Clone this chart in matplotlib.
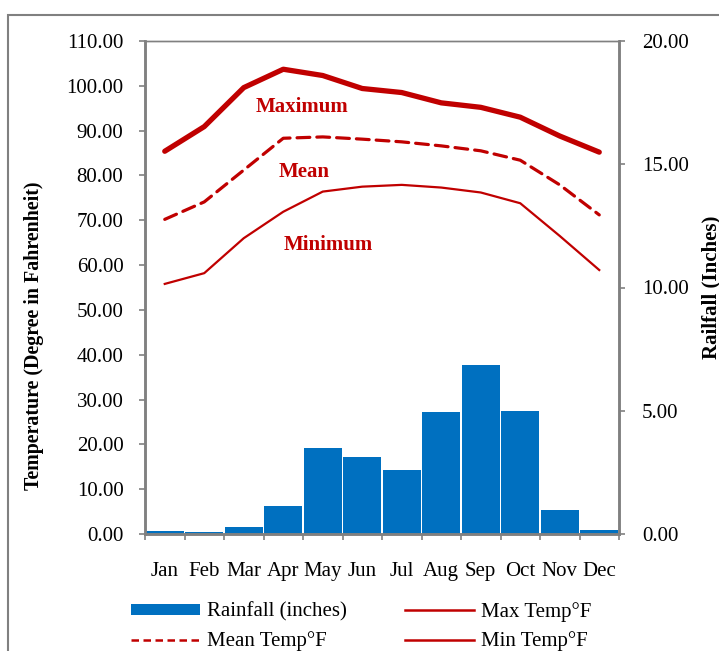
import matplotlib
matplotlib.use("Agg")
import matplotlib.pyplot as plt
from matplotlib.lines import Line2D
from matplotlib.patches import Patch, Rectangle
import numpy as np

months = ["Jan", "Feb", "Mar", "Apr", "May", "Jun", "Jul", "Aug", "Sep", "Oct", "Nov", "Dec"]
rainfall = [0.12, 0.08, 0.30, 1.14, 3.49, 3.12, 2.60, 4.95, 6.86, 4.99, 0.97, 0.16]
max_temp = [85.4, 90.9, 99.6, 103.7, 102.3, 99.4, 98.5, 96.2, 95.2, 93.0, 88.8, 85.2]
mean_temp = [70.2, 74.1, 81.2, 88.3, 88.6, 88.1, 87.5, 86.6, 85.5, 83.4, 77.9, 71.2]
min_temp = [55.8, 58.2, 66.0, 71.9, 76.4, 77.5, 77.9, 77.3, 76.2, 73.8, 66.5, 58.9]

left_ticks = [0, 10, 20, 30, 40, 50, 60, 70, 80, 90, 100, 110]
right_ticks = [0, 5, 10, 15, 20]

RED = "#C00000"
BLUE = "#0070C0"
GRAY = "#808080"

plt.rcParams['font.family'] = ['Liberation Serif', 'DejaVu Serif']
FS = 15

fig = plt.figure(figsize=(7.19, 6.51), dpi=100)
W, H = 719, 651
ax = fig.add_axes([145 / W, 1 - 534 / H, (619 - 145) / W, (534 - 41) / H])
ax2 = ax.twinx()

x = np.arange(len(months))
ax2.bar(x, rainfall, width=0.96, color=BLUE, zorder=2)
ax2.set_ylim(0, 20)
ax2.set_yticks(right_ticks)
ax2.set_yticklabels([f"{v:.2f}" for v in right_ticks], fontsize=FS)

ax.set_zorder(ax2.get_zorder() + 1)
ax.patch.set_visible(False)

ax.plot(x, max_temp, color=RED, lw=3.8, solid_capstyle='round', solid_joinstyle='round')
ax.plot(x, mean_temp, color=RED, lw=2.3, linestyle=(0, (4, 2.2)), dash_capstyle='round')
ax.plot(x, min_temp, color=RED, lw=1.6)

ax.set_ylim(0, 110)
ax.set_xlim(-0.5, 11.5)
ax.set_yticks(left_ticks)
ax.set_yticklabels([f"{v:.2f}" for v in left_ticks], fontsize=FS)
ax.set_xticks(x)
ax.set_xticklabels(months, fontsize=FS)
ax.set_xticks(np.arange(-0.5, 12, 1), minor=True)
ax.tick_params(axis='x', which='major', length=0, pad=20)
ax.tick_params(axis='x', which='minor', length=4, width=1.2, color=GRAY, direction='out')
ax.tick_params(axis='y', length=4.5, width=1.2, color=GRAY, pad=11)
ax2.tick_params(axis='y', length=4.5, width=1.2, color=GRAY, pad=12)

for a in (ax, ax2):
    for side in ('left', 'right', 'bottom'):
        a.spines[side].set_color(GRAY)
        a.spines[side].set_linewidth(1.8)
    a.spines['top'].set_color(GRAY)
    a.spines['top'].set_linewidth(1.0)

fig.text(34 / W, 1 - 336 / H, "Temperature (Degree in Fahrenheit)", rotation=90, fontsize=14.4,
         fontweight='bold', ha='center', va='center')
fig.text(711 / W, 1 - 287 / H, "Railfall (Inches)", rotation=90, fontsize=FS,
         fontweight='bold', ha='center', va='center')

ax.text(3.47, 95.3, "Maximum", color=RED, fontsize=FS, fontweight='bold', ha='center', va='center')
ax.text(3.53, 80.8, "Mean", color=RED, fontsize=FS, fontweight='bold', ha='center', va='center')
ax.text(4.13, 64.5, "Minimum", color=RED, fontsize=FS, fontweight='bold', ha='center', va='center')

handles = [
    Patch(facecolor=BLUE, edgecolor='none'),
    Line2D([], [], color=RED, lw=1.8, linestyle=(0, (3, 1.8))),
    Line2D([], [], color=RED, lw=1.8),
    Line2D([], [], color=RED, lw=1.8),
]
labels = ["Rainfall (inches)", "Mean Temp°F", "Max Temp°F", "Min Temp°F"]
fig.legend(handles, labels, loc='upper left', bbox_to_anchor=(131 / W, 1 - 602 / H),
           ncol=2, frameon=False, fontsize=FS, handlelength=3.3, handleheight=0.48,
           handletextpad=0.34, columnspacing=2.8, labelspacing=0.45, borderpad=0,
           borderaxespad=0)

fig.patches.append(Rectangle((8 / W, -0.1), 1.2, 1 - 15 / H + 0.1, transform=fig.transFigure,
                             fill=False, edgecolor=GRAY, lw=1.5))

fig.savefig("out.png", dpi=100)
